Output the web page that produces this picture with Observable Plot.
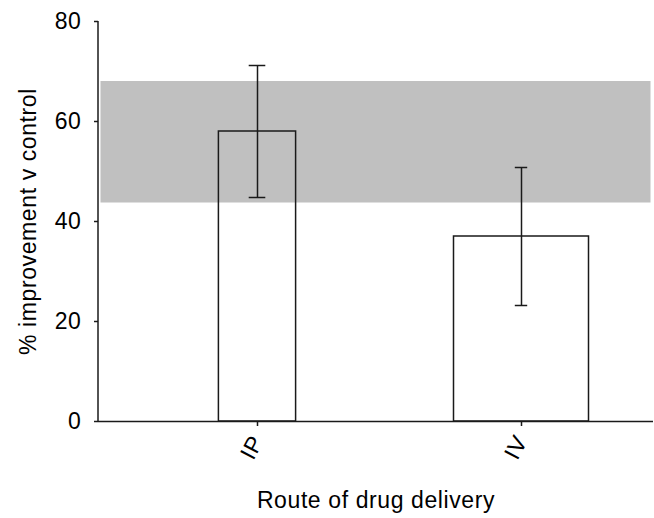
<!DOCTYPE html>
<html>
<head>
<meta charset="utf-8">
<script src="https://cdn.jsdelivr.net/npm/d3@7"></script>
<script src="https://cdn.jsdelivr.net/npm/@observablehq/plot@0.6"></script>
<style>
  html, body { margin: 0; padding: 0; background: #fff; }
  #chart svg text { letter-spacing: 0.6px; }
</style>
</head>
<body>
<div id="chart"></div>
<script>
// Route of delivery and % improvement over control (mean ± error)
const routes = ["IP", "IV"];
const means = [58, 37];
const errors = [13.2, 13.8];
// Shaded reference range
const refBand = [43.7, 68];
const yTicks = [0, 20, 40, 60, 80];

const rows = routes.map((route, i) => ({
  route,
  mean: means[i],
  lo: means[i] - errors[i],
  hi: means[i] + errors[i]
}));

// Per-route drawing geometry (bar and cap insets within each band)
const barInset = {IP: 93.4, IV: 64.5};
const capInset = {IP: 123.7, IV: 125.8};

const ink = "#1a1a1a";

const perRoute = routes.flatMap(r => {
  const d = rows.filter(row => row.route === r);
  return [
    Plot.barY(d, {x: "route", y: "mean", fill: "none", stroke: ink, strokeWidth: 1.5,
      insetLeft: barInset[r], insetRight: barInset[r]}),
    Plot.ruleX(d, {x: "route", y1: "lo", y2: "hi", stroke: ink, strokeWidth: 1.5}),
    Plot.tickY(d, {x: "route", y: "lo", stroke: ink, strokeWidth: 1.5,
      insetLeft: capInset[r], insetRight: capInset[r]}),
    Plot.tickY(d, {x: "route", y: "hi", stroke: ink, strokeWidth: 1.5,
      insetLeft: capInset[r], insetRight: capInset[r]})
  ];
});

// Left axis line spanning the plot frame
const yAxisLine = (index, scales, values, dims) => {
  const line = d3.create("svg:line")
    .attr("x1", dims.marginLeft).attr("x2", dims.marginLeft)
    .attr("y1", dims.marginTop).attr("y2", dims.height - dims.marginBottom)
    .attr("stroke", ink).attr("stroke-width", 1.5);
  return line.node();
};

const chart = Plot.plot({
  width: 654,
  height: 518,
  marginLeft: 98,
  marginRight: 1,
  marginTop: 21,
  marginBottom: 97,
  style: {fontFamily: "'Liberation Sans', Arial, sans-serif", fontSize: "23px", color: "#000", background: "#fff"},
  x: {type: "band", domain: routes, range: [124.7, 652.7], padding: 0},
  y: {domain: [0, 80]},
  marks: [
    Plot.rect([refBand], {y1: d => d[0], y2: d => d[1], fill: "#c0c0c0", insetLeft: 2.5, insetRight: 2.5}),
    ...perRoute,
    Plot.ruleY([0], {stroke: ink, strokeWidth: 1.5}),
    yAxisLine,
    Plot.axisY({ticks: yTicks, tickSize: 4, tickPadding: 13, label: null, stroke: ink, strokeWidth: 1.5, fill: "#000"}),
    Plot.axisX({tickSize: 5, tickPadding: 11, tickRotate: -62, label: null, stroke: ink, strokeWidth: 1.5, fill: "#000"}),
    Plot.text(["% improvement v control"], {text: d => d, frameAnchor: "left", rotate: -90,
      dx: -63, lineAnchor: "bottom", textAnchor: "middle", fill: "#000"}),
    Plot.text(["Route of drug delivery"], {text: d => d, frameAnchor: "bottom",
      dy: 86, lineAnchor: "bottom", textAnchor: "middle", fill: "#000"})
  ]
});

document.getElementById("chart").append(chart);
</script>
</body>
</html>
